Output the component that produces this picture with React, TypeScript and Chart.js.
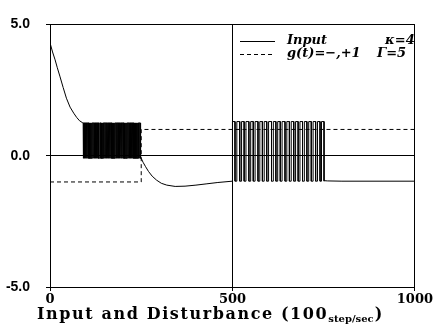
import React, { useEffect, useRef } from "react";
import { Chart, registerables } from "chart.js";

Chart.register(...registerables);

// ---- axis ticks ----
const xTicks = [0, 500, 1000];
const xTickLabels = ["0", "500", "1000"];
const yTicks = [-5, 0, 5];
const yTickLabels = ["-5.0", "0.0", "5.0"];

// ---- Input: initial decay ----
const decay1X = [0, 7, 14, 20, 27, 36, 45, 55, 65, 73, 81, 90];
const decay1Y = [4.3, 3.95, 3.65, 3.35, 3.03, 2.6, 2.19, 1.85, 1.62, 1.46, 1.33, 1.25];

// ---- Input: first (fast) switching burst, switch instants ----
const burst1Toggles = [
  91, 92, 94, 95, 97, 98, 100, 101, 103, 104, 106, 107.5, 109, 110, 112, 113, 115, 116,
  118, 119, 121, 122.5, 124, 125, 127, 128, 130, 131, 133, 134.5, 136, 137, 139, 140,
  142, 143, 145, 146.5, 148, 149, 151, 152, 154, 155, 157, 158.5, 160, 161, 163, 164,
  166, 167, 169, 170.5, 172, 173, 175, 176, 178, 179, 181, 182.5, 184, 185, 187, 188,
  190, 191, 193, 194.5, 196, 197, 199, 200, 202, 203, 205, 206.5, 208, 209, 211, 212,
  214, 215, 217, 218.5, 220, 221, 223, 224, 226, 227, 229, 230.5, 232, 233, 235, 236,
  238, 239, 241, 242.5, 244, 245, 247, 248, 249,
];
const burst1High = 1.25;
const burst1Low = -0.1;

// ---- Input: second decay ----
const decay2X = [250, 255, 262, 270, 280, 292, 305, 320, 343, 370, 400, 430, 460, 500];
const decay2Y = [-0.1, -0.25, -0.42, -0.6, -0.78, -0.93, -1.05, -1.12, -1.17, -1.16, -1.12, -1.07, -1.02, -0.97];

// ---- Input: second switching burst ----
const burst2Toggles = [
  500, 507, 512, 520, 525, 532, 537, 545, 550, 557, 562, 570, 575, 582, 587, 594, 599,
  607, 612, 619, 624, 631, 636, 644, 649, 656, 661, 668, 673, 680, 685, 692, 697, 704,
  709, 716, 721, 728, 733, 740, 744, 751,
];
const burst2High = 1.3;
const burst2Low = -0.97;

// ---- Input: tail ----
const tailX = [751, 760, 800, 1000];
const tailY = [-0.95, -0.96, -0.97, -0.97];

// ---- Disturbance g(t) ----
const gX = [0, 250, 250, 1000];
const gY = [-1, -1, 1, 1];

// ---- legend / title text ----
const legendRows = [
  { label: "Input", param: "κ=4", dash: [] as number[] },
  { label: "g(t)=−,+1", param: "Γ=5", dash: [4, 3] },
];
const titleMain = "Input and Disturbance (100";
const titleSub = "step/sec";
const titleEnd = ")";

function buildInput() {
  const pts: { x: number; y: number }[] = [];
  decay1X.forEach((x, i) => pts.push({ x, y: decay1Y[i] }));
  let level = burst1High;
  for (const t of burst1Toggles) {
    pts.push({ x: t, y: level });
    level = level === burst1High ? burst1Low : burst1High;
    pts.push({ x: t, y: level });
  }
  decay2X.forEach((x, i) => pts.push({ x, y: decay2Y[i] }));
  level = burst2Low;
  for (const t of burst2Toggles) {
    pts.push({ x: t, y: level });
    level = level === burst2Low ? burst2High : burst2Low;
    pts.push({ x: t, y: level });
  }
  tailX.forEach((x, i) => pts.push({ x, y: tailY[i] }));
  return pts;
}

const overlayPlugin = {
  id: "overlay",
  afterDraw(chart: any) {
    const ctx = chart.ctx as CanvasRenderingContext2D;
    ctx.save();
    ctx.fillStyle = "#000";
    ctx.strokeStyle = "#000";
    ctx.lineWidth = 1;
    // legend
    const rowY = [41, 54];
    legendRows.forEach((r, i) => {
      const y = rowY[i] + 0.5;
      ctx.setLineDash(r.dash);
      ctx.beginPath();
      ctx.moveTo(240, y);
      ctx.lineTo(275, y);
      ctx.stroke();
      ctx.setLineDash([]);
      ctx.font = "italic bold 13px 'DejaVu Serif'";
      ctx.textBaseline = "middle";
      ctx.textAlign = "left";
      ctx.fillText(r.label, 287, rowY[i]);
      ctx.fillText(r.param, i === 0 ? 385 : 377, rowY[i]);
    });
    // title
    ctx.textBaseline = "alphabetic";
    ctx.font = "bold 16px 'DejaVu Serif'";
    (ctx as any).letterSpacing = "1.6px";
    let x = 37;
    const base = 319;
    ctx.fillText(titleMain, x, base);
    x += ctx.measureText(titleMain).width;
    ctx.font = "bold 10px 'DejaVu Serif'";
    (ctx as any).letterSpacing = "0px";
    ctx.fillText(titleSub, x, base + 3);
    x += ctx.measureText(titleSub).width + 1;
    ctx.font = "bold 16px 'DejaVu Serif'";
    ctx.fillText(titleEnd, x, base);
    ctx.restore();
  },
};

export default function App() {
  const ref = useRef<HTMLCanvasElement | null>(null);
  useEffect(() => {
    if (!ref.current) return;
    const chart = new Chart(ref.current, {
      type: "line",
      data: {
        datasets: [
          {
            label: "Input",
            data: buildInput(),
            borderColor: "#000",
            borderWidth: 1,
            pointRadius: 0,
            tension: 0,
            fill: false,
          },
          {
            label: "g(t)",
            data: gX.map((x, i) => ({ x, y: gY[i] })),
            borderColor: "#000",
            borderWidth: 1,
            borderDash: [4, 3],
            pointRadius: 0,
            tension: 0,
            fill: false,
          },
        ],
      },
      options: {
        animation: false,
        responsive: false,
        events: [],
        layout: { padding: { left: 0, top: 13, right: 14, bottom: 0 } },
        plugins: { legend: { display: false }, tooltip: { enabled: false }, title: { display: false } },
        scales: {
          x: {
            type: "linear",
            min: 0,
            max: 1000,
            afterBuildTicks: (s: any) => {
              s.ticks = xTicks.map((v) => ({ value: v }));
            },
            afterFit: (s: any) => {
              s.height = 41;
            },
            ticks: {
              color: "#000",
              maxRotation: 0,
              autoSkip: false,
              padding: 1,
              font: { family: "'DejaVu Serif'", weight: "bold", size: 13 },
              callback: (v: any) => xTickLabels[xTicks.indexOf(Number(v))],
            },
            grid: { color: "#000", lineWidth: 1, tickLength: 4, drawTicks: true },
            border: { color: "#000", width: 1 },
          },
          y: {
            type: "linear",
            min: -5,
            max: 5,
            afterBuildTicks: (s: any) => {
              s.ticks = yTicks.map((v) => ({ value: v }));
            },
            afterFit: (s: any) => {
              s.width = 50;
            },
            ticks: {
              color: "#000",
              autoSkip: false,
              padding: 16,
              font: { family: "'Liberation Sans'", weight: "bold", size: 14 },
              callback: (v: any) => yTickLabels[yTicks.indexOf(Number(v))],
            },
            grid: { color: "#000", lineWidth: 1, tickLength: 4, drawTicks: true },
            border: { color: "#000", width: 1 },
          },
        },
      },
      plugins: [overlayPlugin],
    });
    return () => chart.destroy();
  }, []);
  return (
    <div style={{ position: "absolute", left: 0, top: 0, width: 434, height: 328, background: "#fff" }}>
      <canvas ref={ref} width={434} height={328} style={{ display: "block" }} />
    </div>
  );
}
